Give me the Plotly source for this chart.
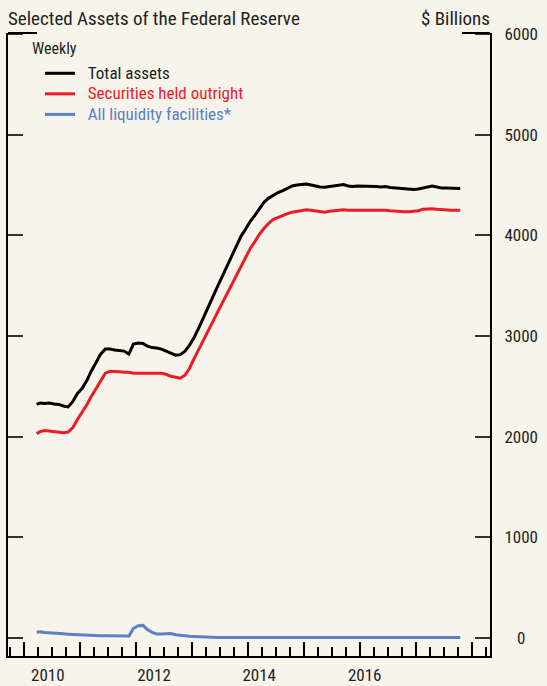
import plotly.graph_objects as go

# ---------------- data ----------------
months = ["2010-03-24"] + [f"{y}-{m:02d}-15" for y in range(2010, 2018) for m in range(1, 13)
                             if (y, m) > (2010, 3) and (y, m) <= (2017, 10)]

total_assets = [
    2320, 2335, 2330, 2335, 2325, 2320, 2305, 2295, 2350, 2430,
    2480, 2560, 2650, 2740, 2820, 2870, 2870, 2860, 2855, 2850, 2820, 2920,
    2930, 2925, 2900, 2885, 2880, 2870, 2850, 2830, 2810, 2815, 2850, 2910,
    2990, 3085, 3185, 3285, 3385, 3490, 3590, 3690, 3790, 3890, 3990, 4060,
    4140, 4200, 4260, 4330, 4370, 4400, 4425, 4445, 4470, 4490, 4500, 4505,
    4510, 4500, 4490, 4480, 4478, 4485, 4490, 4500, 4505, 4490, 4485, 4490,
    4490, 4490, 4490, 4485, 4480, 4485, 4475, 4470, 4470, 4460, 4460, 4455,
    4460, 4470, 4480, 4490, 4480, 4470, 4470, 4470, 4465, 4465,
]
securities = [
    2030, 2050, 2060, 2055, 2050, 2045, 2040, 2045, 2090, 2170,
    2240, 2320, 2400, 2480, 2560, 2630, 2650, 2650, 2645, 2640, 2640, 2630,
    2630, 2625, 2630, 2630, 2630, 2630, 2620, 2600, 2590, 2580, 2610, 2680,
    2780, 2870, 2960, 3050, 3140, 3235, 3325, 3415, 3505, 3595, 3685, 3775,
    3870, 3940, 4010, 4070, 4120, 4160, 4180, 4200, 4215, 4230, 4240, 4250,
    4255, 4250, 4245, 4240, 4230, 4240, 4245, 4250, 4255, 4250, 4250, 4255,
    4255, 4255, 4250, 4250, 4250, 4250, 4245, 4240, 4240, 4235, 4235, 4240,
    4245, 4260, 4265, 4265, 4260, 4255, 4255, 4250, 4250, 4250,
]
liquidity = [
    58, 62, 55, 50, 47, 44, 41, 38, 35, 32,
    30, 28, 27, 25, 23, 22, 21, 20, 20, 20, 20, 95,
    122, 125, 85, 55, 40, 40, 43, 44, 32, 25, 20, 17,
    15, 12, 9, 7, 6, 5, 5, 5, 5, 5, 5, 5,
    5, 5, 5, 5, 5, 5, 5, 5, 5, 5, 5, 5,
    5, 5, 5, 5, 5, 5, 5, 5, 5, 5, 5, 5,
    5, 5, 5, 5, 5, 5, 5, 5, 5, 6, 5, 5,
    5, 6, 5, 5, 5, 5, 5, 5, 5, 5,
]

series_names = ["Total assets", "Securities held outright", "All liquidity facilities*"]
series_colors = ["#000000", "#ed1c24", "#5b80c8"]
series_text_colors = ["#222222", "#ed1c24", "#5b80c8"]

y_ticks = [0, 1000, 2000, 3000, 4000, 5000, 6000]
y_ticktext = ["\u2007\u20080", "1000", "2000", "3000", "4000", "5000", "6000"]
x_label_text = ["2010", "2012", "2014", "2016"]
x_label_dates = ["2010-06-05", "2012-04-27", "2014-03-14", "2016-01-31"]
x_range = ["2009-09-18", "2018-04-27"]
y_range = [-179, 6010]

# ---------------- figure ----------------
FONT = "Liberation Sans Narrow, Arial Narrow, Roboto Condensed, DejaVu Sans Condensed, Liberation Sans, sans-serif"
BG = "#f7f4ec"

fig = go.Figure()
for vals, name, col, tcol in zip([total_assets, securities, liquidity], series_names,
                                 series_colors, series_text_colors):
    label = f"<span style='font-size:17px;color:{tcol}'>\u00a0\u00a0{name}</span>"
    fig.add_trace(go.Scatter(x=months, y=vals, mode="lines", name=label,
                             line=dict(color=col, width=3), hoverinfo="skip"))

# helper (invisible) trace so the yearly-tick axis is drawn
fig.add_trace(go.Scatter(x=months, y=liquidity, xaxis="x2", mode="lines",
                         line=dict(width=0, color="rgba(0,0,0,0)"),
                         showlegend=False, hoverinfo="skip"))

fig.update_layout(
    width=547, height=686,
    margin=dict(l=8, r=57, t=33, b=30),
    paper_bgcolor=BG, plot_bgcolor=BG,
    font=dict(family=FONT, size=16, color="#222222"),
    title=dict(text="Selected Assets of the Federal Reserve", x=8 / 547, xanchor="left",
               y=1 - 18 / 686, yanchor="middle", font=dict(size=19, color="#222222")),
    showlegend=True,
    legend=dict(x=(40 - 8) / 482, y=(656 - 58) / 623, xanchor="left", yanchor="top",
                bgcolor="rgba(0,0,0,0)", font=dict(size=13.5), tracegroupgap=0),
    xaxis=dict(type="date", range=x_range, showgrid=False, zeroline=False, automargin=False,
               showline=True, linecolor="black", linewidth=2,
               tickvals=x_label_dates, ticktext=x_label_text, ticks="", ticklen=0,
               tickfont=dict(size=17), ticklabelstandoff=3,
               minor=dict(dtick="M3", tick0="2010-01-01", ticks="inside", ticklen=9,
                          tickwidth=1.5, tickcolor="black", showgrid=False)),
    xaxis2=dict(type="date", range=x_range, overlaying="x", anchor="y", side="bottom",
                showgrid=False, zeroline=False, showline=False, showticklabels=False,
                automargin=False,
                dtick="M12", tick0="2010-01-01", ticks="inside", ticklen=14,
                tickwidth=1.5, tickcolor="black"),
    yaxis=dict(range=y_range, side="right", showgrid=False, zeroline=False, automargin=False,
               showline=True, mirror="ticks", linecolor="black", linewidth=2,
               tickvals=y_ticks, ticktext=y_ticktext, ticks="inside", ticklen=15,
               tickwidth=1.5, tickcolor="#333333", tickfont=dict(size=17),
               ticklabelstandoff=9),
    shapes=[
        dict(type="line", xref="paper", yref="paper", x0=0, x1=29 / 482, y0=1, y1=1,
             line=dict(color="black", width=2)),
        dict(type="line", xref="paper", yref="paper", x0=1 - 28 / 482, x1=1, y0=1, y1=1,
             line=dict(color="black", width=2)),
    ],
    annotations=[
        dict(text="$ Billions", xref="paper", yref="paper", x=1 + 2 / 482, y=(656 - 18) / 623,
             xanchor="right", yanchor="middle", showarrow=False, font=dict(size=19)),
        dict(text="Weekly", xref="paper", yref="paper", x=(30 - 8) / 482, y=(656 - 48) / 623,
             xanchor="left", yanchor="middle", showarrow=False, font=dict(size=16)),
    ],
)

fig.write_html("out.html", config={"displayModeBar": False},
               post_script="document.body.style.margin='0px';")
